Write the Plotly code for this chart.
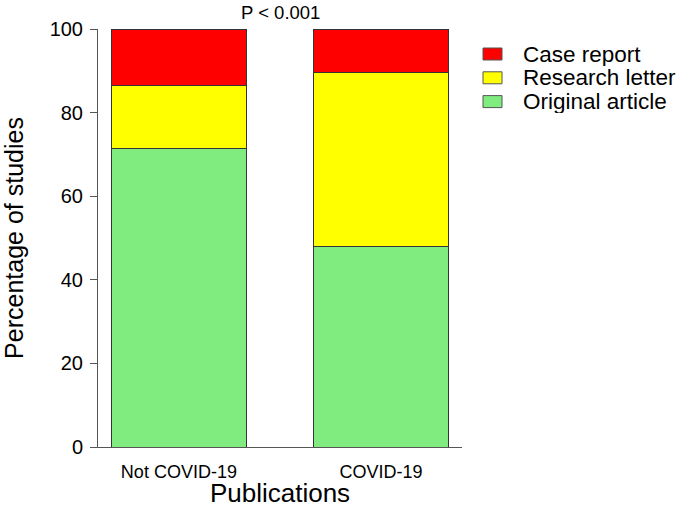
import plotly.graph_objects as go

categories = ["Not COVID-19", "COVID-19"]
original_article = [71.4, 48.0]
research_letter = [15.0, 41.5]
case_report = [13.6, 10.5]

series = [
    ("Original article", original_article, "#80EC80"),
    ("Research letter", research_letter, "#FFFF00"),
    ("Case report", case_report, "#FF0000"),
]

W, H = 685, 508
L, R, T, B = 98, 223, 29, 61
PW, PH = W - L - R, H - T - B


def px_x(p):
    return (p - L) / PW


def px_y(p):
    return (H - B - p) / PH


fig = go.Figure()
for name, vals, col in series:
    fig.add_trace(go.Bar(
        x=categories, y=vals, name=name, width=0.667,
        marker=dict(color=col, line=dict(color="#333333", width=1)),
    ))

# manual legend (top to bottom: Case report, Research letter, Original article)
shapes = []
annotations = []
legend_items = list(reversed(series))
for i, (name, vals, col) in enumerate(legend_items):
    cy = 54 + i * 23.8
    shapes.append(dict(
        type="rect", xref="paper", yref="paper",
        x0=px_x(483), x1=px_x(502), y0=px_y(cy - 6), y1=px_y(cy + 6),
        fillcolor=col, line=dict(color="#555555", width=1),
    ))
    annotations.append(dict(
        text=name, xref="paper", yref="paper", x=px_x(521), y=px_y(cy),
        xanchor="left", yanchor="middle", showarrow=False,
        font=dict(size=22.5), height=23,
    ))

annotations.append(dict(
    text="P < 0.001", x=0.5, y=px_y(0.5), xref="x", yref="paper",
    yanchor="top", showarrow=False, font=dict(size=18.5), height=19,
))

fig.update_layout(
    barmode="stack",
    width=W, height=H,
    margin=dict(l=L, r=R, t=T, b=B, autoexpand=False),
    paper_bgcolor="white", plot_bgcolor="white",
    font=dict(family="Liberation Sans, Arial, sans-serif", color="black"),
    showlegend=False,
    xaxis=dict(
        range=[-0.4, 1.4], automargin=False,
        showline=True, linecolor="#555555", linewidth=1,
        ticks="", tickfont=dict(size=18), ticklabelstandoff=8,
        title=dict(text="Publications", font=dict(size=26), standoff=2),
        showgrid=False, zeroline=False,
    ),
    yaxis=dict(
        range=[0, 100], automargin=False,
        tickvals=[0, 20, 40, 60, 80, 100],
        showline=True, linecolor="#555555", linewidth=1,
        ticks="outside", ticklen=7, tickcolor="#555555",
        tickfont=dict(size=20), ticklabelstandoff=3,
        title=dict(text="Percentage of studies", font=dict(size=25), standoff=20),
        showgrid=False, zeroline=False,
    ),
    shapes=shapes,
    annotations=annotations,
)

fig.write_html("out.html")
